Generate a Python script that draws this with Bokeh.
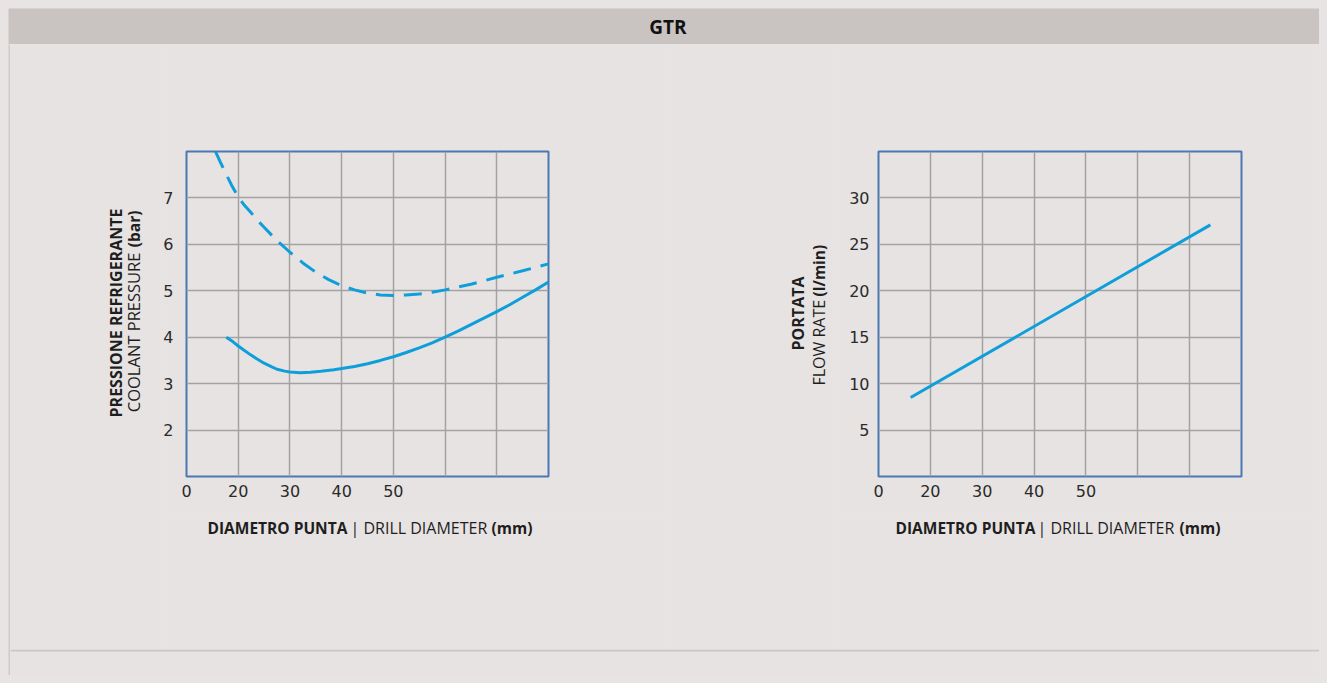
import math
from bokeh.plotting import figure
from bokeh.layouts import row, column
from bokeh.models import Range1d, FixedTicker, Span
from bokeh.core.properties import value
from bokeh.embed import file_html
from bokeh.resources import INLINE

# ---------------- data ----------------
title_text = "GTR"
x_ticks = [10, 20, 30, 40, 50, 60, 70]
x_tick_labels = {10: "0", 20: "20", 30: "30", 40: "40", 50: "50", 60: "", 70: ""}

pressure_ticks = [2, 3, 4, 5, 6, 7]
flow_ticks = [5, 10, 15, 20, 25, 30]

# coolant pressure - dashed curve (mm, bar)
dash_x = [15.6, 16.5, 17.5, 18.7, 20, 21.2, 22.5, 23.7, 25, 27.5, 30, 32.5, 35, 37.5, 40,
          42.5, 45, 47.5, 50, 52.5, 55, 57.5, 60, 65, 70, 75, 80]
dash_y = [8.0, 7.78, 7.55, 7.28, 7.02, 6.84, 6.68, 6.52, 6.37, 6.08, 5.83, 5.60, 5.40, 5.24, 5.11,
          5.02, 4.95, 4.91, 4.90, 4.91, 4.93, 4.97, 5.02, 5.14, 5.29, 5.43, 5.58]

# coolant pressure - solid curve (mm, bar)
solid_x = [17.7, 19, 20, 21, 22.4, 23.5, 25, 26.5, 27.5, 29, 30, 32, 34, 36, 38.5, 40,
           42.5, 45, 47.5, 50, 52.5, 55, 57.5, 60, 62.5, 65, 67.5, 70, 72.5, 75, 77.5, 80]
solid_y = [4.0, 3.90, 3.81, 3.73, 3.62, 3.54, 3.44, 3.36, 3.31, 3.27, 3.25, 3.235, 3.245, 3.265, 3.30, 3.325,
           3.37, 3.43, 3.50, 3.58, 3.67, 3.77, 3.88, 4.0, 4.13, 4.27, 4.41, 4.55, 4.70, 4.86, 5.02, 5.19]

# flow rate (mm, l/min)
flow_x = [16.2, 74.0]
flow_y = [8.5, 27.1]

# axis titles
x_title = ["DIAMETRO PUNTA", "| DRILL DIAMETER", "(mm)"]
left_y_title = ["PRESSIONE REFRIGERANTE", "COOLANT PRESSURE", "(bar)"]
right_y_title = ["PORTATA", "FLOW RATE", "(l/min)"]

# ---------------- styles ----------------
PAGE_BG = "#e8e4e3"
PANEL_BG = "#e7e3e2"
BAR_BG = "#c9c4c1"
LINE_C = "#0e9fda"
FRAME_C = "#4a78b0"
GRID_C = "#a2a2a2"
TXT = "#1e1e1e"
TFONT = "Open Sans"
NFONT = "DejaVu Sans"
BSIZE = "15.5px"
RSIZE = "16px"


def blank(width, height, bg, xr=None, bl=0, br=0):
    p = figure(width=width, height=height,
               x_range=xr if xr is not None else Range1d(0, width),
               y_range=Range1d(0, height),
               output_backend="svg", toolbar_location=None, min_border=0,
               min_border_left=bl, min_border_right=br)
    p.background_fill_color = bg
    p.border_fill_color = bg
    p.outline_line_color = None
    p.axis.visible = False
    p.grid.visible = False
    return p


def put_text(p, x, y, text, bold=False, angle=0.0, size=None, align="left", color=TXT):
    if size is None:
        size = BSIZE if bold else RSIZE
    p.text(x=[x], y=[y], text=[text], angle=angle,
           text_font=value(TFONT), text_font_size=size,
           text_font_style="bold" if bold else "normal",
           text_color=color, text_align=align, text_baseline="middle")


def chart(width, height, bl, br, bt, bb, xr, yr, yticks, ystandoff):
    p = figure(width=width, height=height, x_range=xr, y_range=yr,
               output_backend="svg", toolbar_location=None,
               min_border_left=bl, min_border_right=br,
               min_border_top=bt, min_border_bottom=bb)
    p.background_fill_color = PANEL_BG
    p.border_fill_color = PANEL_BG
    p.outline_line_color = FRAME_C
    p.outline_line_width = 2
    for ax in (p.xaxis[0], p.yaxis[0]):
        ax.axis_line_color = None
        ax.major_tick_line_color = None
        ax.minor_tick_line_color = None
        ax.major_tick_out = 0
        ax.major_tick_in = 0
        ax.major_label_text_font = NFONT
        ax.major_label_text_font_size = "16px"
        ax.major_label_text_color = "#2a2a2a"
    p.xaxis.ticker = FixedTicker(ticks=x_ticks)
    p.xaxis.major_label_overrides = x_tick_labels
    p.xaxis.major_label_standoff = 8
    p.xgrid.ticker = FixedTicker(ticks=x_ticks)
    p.yaxis.ticker = FixedTicker(ticks=yticks)
    p.ygrid.ticker = FixedTicker(ticks=yticks)
    p.yaxis.major_label_standoff = ystandoff
    for g in (p.xgrid[0], p.ygrid[0]):
        g.grid_line_color = GRID_C
        g.grid_line_width = 1.5
    return p


# ---------------- title bar ----------------
tb = blank(1319, 36, BAR_BG)
put_text(tb, 659.5, 18, title_text, bold=True, size="19px", align="center", color="#111111")

# ---------------- left block (page x 10..668, y 44..649) ----------------
ylabL = blank(150, 605, PANEL_BG)
put_text(ylabL, 105, 336.5, left_y_title[0], bold=True, angle=math.pi / 2, size="16px", align="center")
put_text(ylabL, 123, 237.3, left_y_title[1], angle=math.pi / 2, size="16.5px")
put_text(ylabL, 123, 439, left_y_title[2], bold=True, angle=math.pi / 2, align="right")

pl = chart(508, 472, 26, 120, 107, 40, Range1d(10, 80), Range1d(1, 8), pressure_ticks, 13)
pl.line(dash_x, dash_y, line_color=LINE_C, line_width=3, line_dash="18 10")
pl.line(solid_x, solid_y, line_color=LINE_C, line_width=3)

# x-title strip: same side borders as the chart, x range in page pixels of the frame
xlabL = blank(508, 133, PANEL_BG, xr=Range1d(186, 548), bl=26, br=120)
put_text(xlabL, 207, 122, x_title[0], bold=True)
put_text(xlabL, 350, 122, x_title[1])
put_text(xlabL, 491, 122, x_title[2], bold=True)

left_block = row(ylabL, column(pl, xlabL))

# ---------------- right block (page x 668..1327) ----------------
ylabR = blank(170, 605, PANEL_BG)
put_text(ylabR, 129, 336, right_y_title[0], bold=True, angle=math.pi / 2, size="16px", align="center")
put_text(ylabR, 150, 264, right_y_title[1], angle=math.pi / 2)
put_text(ylabR, 150, 353, right_y_title[2], bold=True, angle=math.pi / 2)

pr = chart(489, 472, 40, 86, 107, 40, Range1d(10, 80), Range1d(0, 35), flow_ticks, 9)
pr.line(flow_x, flow_y, line_color=LINE_C, line_width=3)

xlabR = blank(489, 133, PANEL_BG, xr=Range1d(878, 1241), bl=40, br=86)
put_text(xlabR, 895, 122, x_title[0], bold=True)
put_text(xlabR, 1037, 122, x_title[1])
put_text(xlabR, 1179, 122, x_title[2], bold=True)

right_block = row(ylabR, column(pr, xlabR))

# ---------------- panel decorations ----------------
sep = blank(2, 631, "#cfcac8")
strip = blank(1317, 26, PANEL_BG)
strip.add_layout(Span(location=25, dimension="width", line_color="#cbc7c5", line_width=2))

layout = column(tb, row(sep, column(row(left_block, right_block), strip)))

html = file_html(layout, INLINE)
html = html.replace("</head>",
                    "<style>html,body{margin:0;padding:0;background:%s;}"
                    "body{margin:8px !important;}</style></head>" % PAGE_BG, 1)
open("out.html", "w").write(html)
